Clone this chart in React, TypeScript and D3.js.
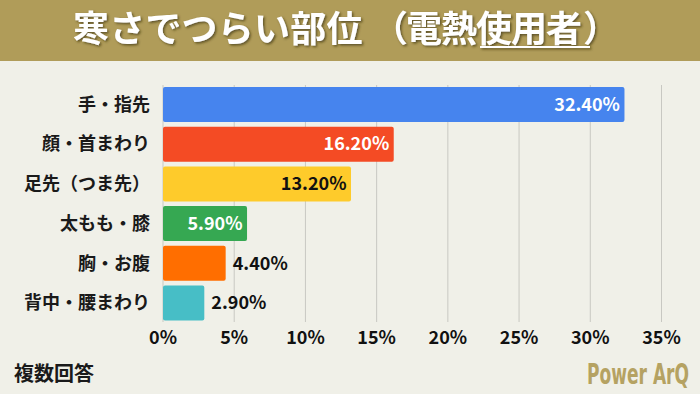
import React from 'react'
import * as d3 from 'd3'

const categories = ['手・指先', '顔・首まわり', '足先（つま先）', '太もも・膝', '胸・お腹', '背中・腰まわり']
const values = [32.4, 16.2, 13.2, 5.9, 4.4, 2.9]
const barColors = ['#4684ee', '#f44b24', '#fecb2b', '#36a852', '#ff6e00', '#47bec6']
const labelInside = [true, true, true, true, false, false]
const labelColors = ['#ffffff', '#ffffff', '#111111', '#ffffff', '#111111', '#111111']
const ticks = [0, 5, 10, 15, 20, 25, 30, 35]

const W = 700
const H = 394
const font = '"Noto Sans CJK JP", "Noto Sans", sans-serif'

export default function App() {
  const x = d3.scaleLinear().domain([0, 35]).range([163, 661.5])
  const y = d3.scaleBand<string>()
    .domain(categories)
    .range([85, 322.5])
    .paddingInner(0.118)
    .paddingOuter(0.05)

  return (
    <svg width={W} height={H} style={{ display: 'block', position: 'absolute', left: 0, top: 0 }}>
      <defs>
        <filter id="shadow" x="-10%" y="-30%" width="120%" height="160%">
          <feDropShadow dx="1.5" dy="1.5" stdDeviation="1.3" floodColor="#3a3010" floodOpacity="0.7" />
        </filter>
      </defs>
      <rect x={0} y={0} width={W} height={H} fill="#f0f0e8" />
      <rect x={0} y={0} width={W} height={61} fill="#b09c59" />
      <g filter="url(#shadow)">
        <text y={42} fill="#ffffff" fontFamily={font} fontWeight={700} fontSize={36}>
          <tspan x={73} letterSpacing={0.2}>寒さでつらい部位</tspan>
          <tspan x={372}>（</tspan>
          <tspan x={406} letterSpacing={-1}>電熱使用者</tspan>
          <tspan x={583}>）</tspan>
        </text>
        <rect x={480} y={46} width={110} height={2} fill="#ffffff" />
      </g>

      {ticks.map(t => (
        <line key={t} x1={x(t)} x2={x(t)} y1={85} y2={322} stroke="#c8c8c2" strokeWidth={1} />
      ))}

      {categories.map((c, i) => {
        const by = y(c) as number
        const bw = y.bandwidth()
        const xe = x(values[i])
        return (
          <g key={c}>
            <rect x={x(0)} y={by} width={xe - x(0)} height={bw} rx={2} fill={barColors[i]} />
            <text
              x={150}
              y={by + bw / 2}
              dy="0.35em"
              textAnchor="end"
              fontFamily={font}
              fontWeight={700}
              fontSize={18}
              fill="#1a1a1a"
            >
              {c}
            </text>
            <text
              x={labelInside[i] ? xe - 4.5 : xe + 7}
              y={by + bw / 2}
              dy="0.35em"
              textAnchor={labelInside[i] ? 'end' : 'start'}
              fontFamily={font}
              fontWeight={700}
              fontSize={18}
              fill={labelColors[i]}
            >
              {values[i].toFixed(2)}%
            </text>
          </g>
        )
      })}

      {ticks.map(t => (
        <text
          key={t}
          x={x(t)}
          y={338}
          dy="0.35em"
          textAnchor="middle"
          fontFamily={font}
          fontWeight={700}
          fontSize={18}
          fill="#111111"
        >
          {t}%
        </text>
      ))}

      <text x={14} y={381} fontFamily={font} fontWeight={700} fontSize={20} fill="#1a1a1a">
        複数回答
      </text>
      <text
        transform="translate(587,384) scale(1,1.4)"
        fontFamily='"DejaVu Sans Condensed", "Liberation Sans Narrow", sans-serif'
        fontWeight={700}
        fontSize={20}
        fill="#b5a262"
        textLength={102}
        lengthAdjust="spacingAndGlyphs"
      >
        Power ArQ
      </text>
    </svg>
  )
}
